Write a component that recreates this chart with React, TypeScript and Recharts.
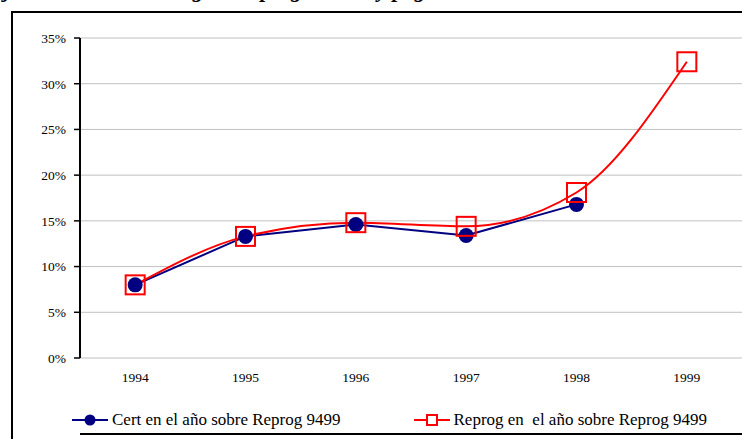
import React from 'react';
import { LineChart, Line, XAxis, YAxis, CartesianGrid } from 'recharts';

const years = ['1994', '1995', '1996', '1997', '1998', '1999'];
const certValues: (number | null)[] = [0.08, 0.133, 0.146, 0.134, 0.168, null];
const reprogValues: number[] = [0.08, 0.133, 0.148, 0.144, 0.181, 0.324];
const yTicks = [0, 0.05, 0.1, 0.15, 0.2, 0.25, 0.3, 0.35];
const edgeTicks = [0, 1, 2, 3, 4, 5, 6];
const certName = 'Cert en el año sobre Reprog 9499';
const reprogName = 'Reprog en  el año sobre Reprog 9499';
const titleText = 'Ejecutado sobre lo cargado reprogramado y pagado en cada año sobre el total 94-99';

const BLUE = '#000080';
const RED = '#ff0000';
const FONT = '"Liberation Serif", "Times New Roman", serif';

const data = years.map((year, i) => ({
  year,
  edge: i + 0.5,
  cert: certValues[i],
  reprog: reprogValues[i],
}));

const SquareDot = (props: any) => {
  const { cx, cy, index } = props;
  if (cx == null || cy == null) return <g key={index} />;
  const s = 19;
  return (
    <rect
      key={index}
      x={cx - s / 2}
      y={cy - s / 2}
      width={s}
      height={s}
      fill="none"
      stroke={RED}
      strokeWidth={2}
    />
  );
};

const legendItems = [
  { name: certName, color: BLUE, marker: 'circle' },
  { name: reprogName, color: RED, marker: 'square' },
];

export default function App() {
  const tickStyle = { fontSize: 13.5, fontFamily: FONT, fill: '#000' };
  return (
    <div
      style={{
        position: 'fixed',
        left: 0,
        top: 0,
        width: 742,
        height: 439,
        overflow: 'hidden',
        background: '#fff',
      }}
    >
      <div
        style={{
          position: 'absolute',
          left: -100,
          top: -21,
          width: 942,
          textAlign: 'center',
          whiteSpace: 'nowrap',
          font: `italic bold 22px ${FONT}`,
          lineHeight: '22px',
          color: '#000',
        }}
      >
        {titleText}
      </div>
      <div
        style={{
          position: 'absolute',
          left: 11,
          top: 11,
          width: 800,
          height: 500,
          border: '2px solid #000',
        }}
      />
      <div style={{ position: 'absolute', left: 0, top: 0 }}>
        <LineChart
          width={742}
          height={439}
          data={data}
          margin={{ top: 38, right: 0, left: 20, bottom: 0 }}
        >
          <CartesianGrid vertical={false} stroke="#c0c0c0" strokeWidth={1} />
          <XAxis
            xAxisId="edges"
            dataKey="edge"
            type="number"
            domain={[0, 6]}
            allowDataOverflow
            ticks={edgeTicks}
            tick={false}
            tickLine={{ stroke: '#000', strokeWidth: 1.5 }}
            tickSize={6}
            axisLine={{ stroke: '#000', strokeWidth: 2 }}
            height={5}
          />
          <XAxis
            xAxisId="cat"
            dataKey="year"
            type="category"
            scale="band"
            interval={0}
            axisLine={false}
            tickLine={false}
            tickSize={0}
            tickMargin={14}
            height={76}
            tick={tickStyle}
          />
          <YAxis
            domain={[0, 0.35]}
            ticks={yTicks}
            tickFormatter={(v: number) => `${Math.round(v * 100)}%`}
            width={60}
            tick={tickStyle}
            tickSize={6}
            tickMargin={8}
            tickLine={{ stroke: '#000', strokeWidth: 1.5 }}
            axisLine={{ stroke: '#000', strokeWidth: 2 }}
            allowDataOverflow
          />
          <Line
            xAxisId="cat"
            dataKey="cert"
            name={certName}
            type="linear"
            stroke={BLUE}
            strokeWidth={2}
            dot={{ r: 7.5, fill: BLUE, stroke: BLUE, strokeWidth: 0 }}
            activeDot={false}
            isAnimationActive={false}
          />
          <Line
            xAxisId="cat"
            dataKey="reprog"
            name={reprogName}
            type="monotone"
            stroke={RED}
            strokeWidth={2}
            dot={<SquareDot />}
            activeDot={false}
            isAnimationActive={false}
          />
        </LineChart>
      </div>
      <div
        style={{
          position: 'absolute',
          left: 72,
          top: 410,
          display: 'flex',
          gap: 73,
          font: `17px ${FONT}`,
          lineHeight: '20px',
          color: '#000',
          whiteSpace: 'pre',
        }}
      >
        {legendItems.map((it) => (
          <div key={it.name} style={{ display: 'flex', alignItems: 'center' }}>
            <svg width={36} height={14} style={{ marginRight: 4 }}>
              <line x1={0} y1={7} x2={36} y2={7} stroke={it.color} strokeWidth={2} />
              {it.marker === 'circle' ? (
                <circle cx={18} cy={7} r={5.5} fill={it.color} />
              ) : (
                <rect x={13} y={2} width={10} height={10} fill="#fff" stroke={it.color} strokeWidth={2} />
              )}
            </svg>
            <span>{it.name}</span>
          </div>
        ))}
      </div>
    </div>
  );
}
